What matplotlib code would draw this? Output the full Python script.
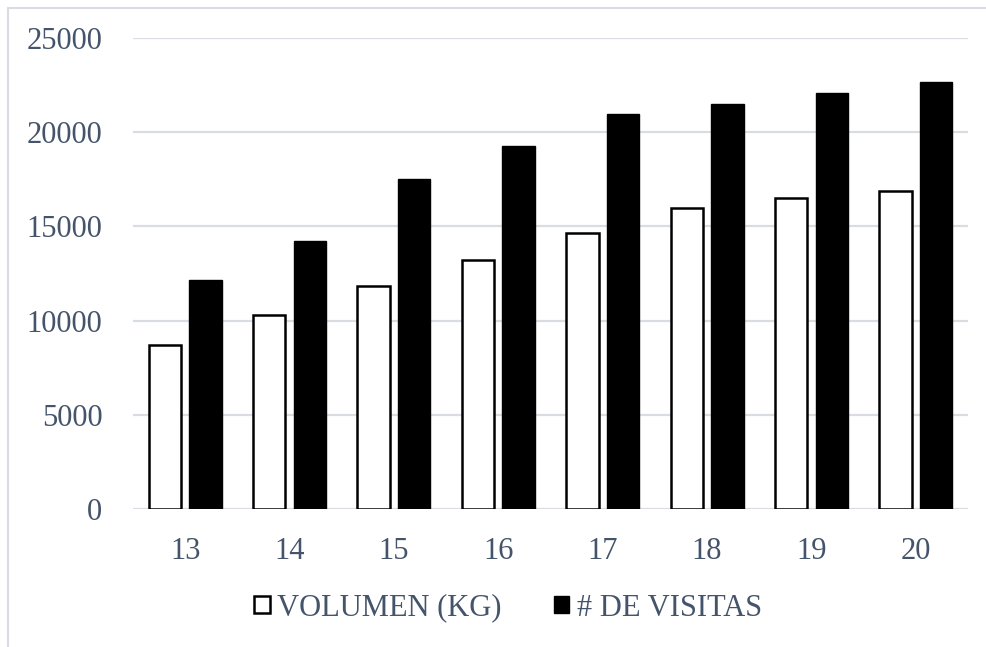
import matplotlib.pyplot as plt
import numpy as np
from matplotlib.patches import Rectangle

categories = ["13", "14", "15", "16", "17", "18", "19", "20"]
volumen = [8700, 10300, 11850, 13200, 14650, 16000, 16500, 16900]
visitas = [12150, 14250, 17500, 19250, 20950, 21500, 22100, 22650]
y_ticks = [0, 5000, 10000, 15000, 20000, 25000]

text_color = "#44546A"
grid_color = "#D9DDE3"

plt.rcParams["font.family"] = ["Liberation Serif", "DejaVu Serif"]

fig = plt.figure(figsize=(9.86, 6.47), dpi=100)
ax = fig.add_axes([133 / 986, 1 - 509 / 647, (968 - 133) / 986, (509 - 38) / 647])

x = np.arange(len(categories))
w = 0.31
off = 0.195
ax.bar(x - off, volumen, w, color="white", edgecolor="black", linewidth=1.8,
       label="VOLUMEN (KG)", zorder=3)
ax.bar(x + off, visitas, w, color="black", edgecolor="black", linewidth=1.0,
       label="# DE VISITAS", zorder=3)

ax.set_xlim(-0.5, len(categories) - 0.5)
ax.set_ylim(0, 25000)
ax.set_yticks(y_ticks)
ax.set_yticklabels([str(v) for v in y_ticks])
ax.set_xticks(x)
ax.set_xticklabels(categories)
ax.tick_params(axis="both", length=0, labelsize=22, labelcolor=text_color)
ax.tick_params(axis="y", pad=22)
ax.tick_params(axis="x", pad=20)
ax.yaxis.grid(True, color=grid_color, linewidth=1.6, zorder=0)
ax.set_axisbelow(True)
for s in ax.spines.values():
    s.set_visible(False)

fig.legend(loc="center", bbox_to_anchor=(508 / 986, 1 - 608 / 647), ncol=2,
           frameon=False, fontsize=22, labelcolor=text_color,
           handlelength=0.5, handleheight=0.5, handletextpad=0.25,
           columnspacing=1.7)

fig.patches.append(Rectangle((8 / 986, -0.1), 1.2, 1.1 - 8 / 647, transform=fig.transFigure,
                             fill=False, edgecolor=grid_color, linewidth=1.5))

fig.savefig("out.png", dpi=100)
